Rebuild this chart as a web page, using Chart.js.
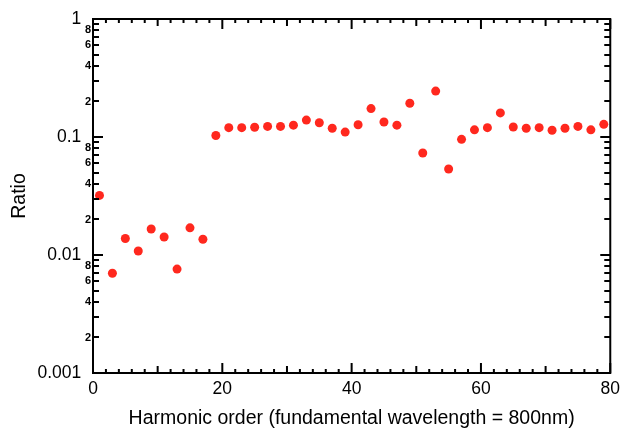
<!DOCTYPE html>
<html>
<head>
<meta charset="utf-8">
<script src="https://cdn.jsdelivr.net/npm/chart.js@4"></script>
<style>
html,body{margin:0;padding:0;background:#fff;}
canvas{display:block;}
</style>
</head>
<body>
<canvas id="c" width="626" height="431"></canvas>
<script>
// Harmonic orders (odd harmonics)
const harmonicOrders = [1,3,5,7,9,11,13,15,17,19,21,23,25,27,29,31,33,35,37,39,41,43,45,47,49,51,53,55,57,59,61,63,65,67,69,71,73,75,77,79];
// Ratio values
const ratioValues = [0.032,0.0070,0.0138,0.0108,0.0166,0.0142,0.0076,0.0170,0.0136,0.103,
  0.120,0.120,0.121,0.123,0.123,0.126,0.139,0.132,0.1185,0.110,
  0.127,0.174,0.134,0.126,0.193,0.0732,0.245,0.0536,0.0955,0.115,
  0.120,0.160,0.1215,0.1185,0.120,0.114,0.1185,0.123,0.115,0.128];
// Tick labels
const xTickLabels = [0,20,40,60,80];
const yDecadeLabels = ['0.001','0.01','0.1','1'];
const yMinorLabels = [2,4,6,8];

const FONT = "'Liberation Sans', Arial, Helvetica, sans-serif";
const decadeValues = yDecadeLabels.map(Number);

function yLabelFor(v){
  for (const d of yDecadeLabels){ if (Math.abs(v/Number(d) - 1) < 1e-6) return d + '  '; }
  const e = Math.floor(Math.log10(v) + 1e-9);
  const m = Math.round(v / Math.pow(10, e));
  return yMinorLabels.includes(m) ? String(m) : '';
}
function isDecade(v){ return decadeValues.some(d => Math.abs(v/d - 1) < 1e-6); }

const framePlugin = {
  id: 'frame',
  afterDatasetsDraw(chart){
    const {ctx, chartArea: a, scales: {x, y}} = chart;
    ctx.save();
    ctx.strokeStyle = '#000';
    ctx.lineWidth = 2;
    ctx.beginPath();
    for (let v = 0; v <= 80; v += 2){
      const px = x.getPixelForValue(v);
      const len = v % 20 === 0 ? 10 : (v % 10 === 0 ? 7 : 4);
      ctx.moveTo(px, a.bottom); ctx.lineTo(px, a.bottom - len);
      ctx.moveTo(px, a.top); ctx.lineTo(px, a.top + len);
    }
    for (let e = -3; e <= 0; e++){
      for (let m = 1; m <= 9; m++){
        const v = m * Math.pow(10, e);
        if (v > 1.0001) break;
        const py = Math.round(y.getPixelForValue(v));
        const len = m === 1 ? 10 : 6;
        ctx.moveTo(a.left, py); ctx.lineTo(a.left + len, py);
        ctx.moveTo(a.right, py); ctx.lineTo(a.right - len, py);
      }
    }
    ctx.stroke();
    ctx.strokeRect(a.left, a.top, a.right - a.left, a.bottom - a.top);
    ctx.restore();
  }
};

new Chart(document.getElementById('c'), {
  type: 'scatter',
  data: {
    datasets: [{
      data: harmonicOrders.map((h, i) => ({x: h, y: ratioValues[i]})),
      backgroundColor: 'rgb(255,40,30)',
      borderWidth: 0,
      pointRadius: 4.5,
      pointHoverRadius: 4.5,
      showLine: false
    }]
  },
  options: {
    responsive: false,
    animation: false,
    devicePixelRatio: 1,
    layout: { padding: { top: 19, right: 14, left: 0, bottom: 0 } },
    plugins: { legend: { display: false }, tooltip: { enabled: false } },
    scales: {
      x: {
        type: 'linear', min: 0, max: 80,
        grid: { display: false, drawTicks: false },
        border: { display: false },
        afterBuildTicks(s){ s.ticks = xTickLabels.map(v => ({value: v})); },
        afterFit(s){ s.height = 58; },
        ticks: { autoSkip: false, maxRotation: 0, padding: 6, color: '#000',
          font: { family: FONT, size: 17.5 } },
        title: { display: true, text: 'Harmonic order (fundamental wavelength = 800nm)',
          color: '#000', font: { family: FONT, size: 19.5 }, padding: { top: 0, bottom: 1 } }
      },
      y: {
        type: 'logarithmic', min: 0.001, max: 1,
        grid: { display: false, drawTicks: false },
        border: { display: false },
        afterBuildTicks(s){
          const t = [];
          for (let e = -3; e <= 0; e++){
            for (let m = 1; m <= 9; m++){
              const v = m * Math.pow(10, e);
              if (v > 1.0001) break;
              t.push({value: v, major: m === 1});
            }
          }
          s.ticks = t;
        },
        afterFit(s){ s.width = 93; },
        ticks: {
          autoSkip: false, padding: 2, color: '#000',
          callback: (v) => yLabelFor(v),
          font: (ctx) => (ctx.tick && isDecade(ctx.tick.value))
            ? { family: FONT, size: 17.5 }
            : { family: FONT, size: 11, weight: 'bold' }
        },
        title: { display: true, text: 'Ratio', color: '#000',
          font: { family: FONT, size: 19.5 }, padding: { top: 8, bottom: 0 } }
      }
    }
  },
  plugins: [framePlugin]
});
</script>
</body>
</html>
